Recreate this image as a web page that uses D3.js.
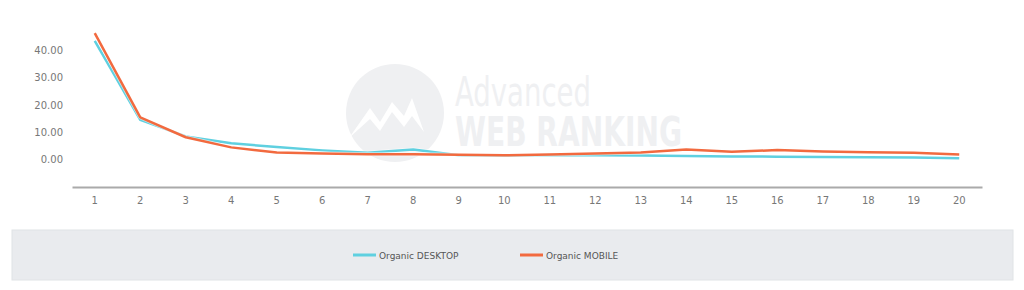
<!DOCTYPE html>
<html>
<head>
<meta charset="utf-8">
<script src="https://d3js.org/d3.v7.min.js"></script>
<style>
  body { margin: 0; background: #fff; }
  text { font-family: "DejaVu Sans", Verdana, sans-serif; }
</style>
</head>
<body>
<div id="chart-area"></div>
<script>
  // positions 1..20
  var positions = d3.range(1, 21).map(String);
  var desktopValues = [43.5, 14.6, 8.5, 6.0, 4.6, 3.4, 2.5, 3.7, 1.6, 1.4,
                       1.7, 1.6, 1.5, 1.3, 1.2, 1.1, 1.0, 0.9, 0.8, 0.5];
  var mobileValues = [46.3, 15.5, 8.2, 4.5, 2.6, 2.3, 2.0, 2.0, 1.8, 1.6,
                      1.9, 2.3, 2.6, 3.7, 2.9, 3.5, 3.0, 2.7, 2.5, 1.9];
  var yTicks = [0, 10, 20, 30, 40];
  var seriesNames = ['Organic DESKTOP', 'Organic MOBILE'];
  var seriesColors = ['#5fd0e0', '#f26a3f'];

  var svg = d3.select('#chart-area').append('svg')
      .attr('width', 1024)
      .attr('height', 290);

  var margin = {left: 72, right: 42, top: 23, bottom: 103};
  var width = 1024 - margin.left - margin.right,
      height = 290 - margin.top - margin.bottom;

  // watermark (one text, two lines)
  var wm = svg.append('g').attr('fill', '#eff0f2');
  wm.append('circle').attr('cx', 395).attr('cy', 113).attr('r', 49);
  wm.append('path')
    .attr('fill', '#fff')
    .attr('d', 'M349,138 L370,108 L380,122 L392,102 L404,116 L412,98 L424,132 L412,116 L404,127 L392,112 L380,131 L370,119 Z');
  var wmText = wm.append('text')
    .attr('font-family', '"Open Sans", sans-serif')
    .attr('font-size', '40px');
  wmText.append('tspan')
    .attr('x', 455).attr('y', 106)
    .attr('textLength', 136)
    .attr('lengthAdjust', 'spacingAndGlyphs')
    .text('Advanced');
  wmText.append('tspan')
    .attr('x', 455).attr('y', 146)
    .attr('font-weight', 'bold')
    .attr('textLength', 227)
    .attr('lengthAdjust', 'spacingAndGlyphs')
    .text('WEB RANKING');

  var g = svg.append('g')
      .attr('transform', 'translate(' + margin.left + ',' + margin.top + ')');

  var x = d3.scaleBand().domain(positions).range([0, width]);
  var y = d3.scaleLinear().domain([-10, 50]).range([height, 0]);

  // y axis labels, no line
  var yAxis = g.append('g')
      .call(d3.axisLeft(y).tickValues(yTicks).tickSize(0).tickPadding(9).tickFormat(d3.format('.2f')));
  yAxis.select('.domain').remove();
  yAxis.selectAll('text').attr('fill', '#777').attr('font-size', '10px');

  // x axis
  var xAxis = g.append('g')
      .attr('transform', 'translate(0,' + height + ')')
      .call(d3.axisBottom(x).tickSize(0).tickPadding(10));
  xAxis.select('.domain').attr('stroke', '#aaa').attr('stroke-width', 2);
  xAxis.selectAll('text').attr('fill', '#777').attr('font-size', '10px');

  var line = d3.line()
      .x(function(d, i) { return x(positions[i]) + x.bandwidth() / 2; })
      .y(function(d) { return y(d); });

  [desktopValues, mobileValues].forEach(function(vals, i) {
    g.append('path')
      .attr('fill', 'none')
      .attr('stroke', '#fff')
      .attr('stroke-width', 4)
      .attr('opacity', 0.6)
      .attr('d', line(vals));
    g.append('path')
      .attr('fill', 'none')
      .attr('stroke', seriesColors[i])
      .attr('stroke-width', 2.5)
      .attr('stroke-linejoin', 'round')
      .attr('d', line(vals));
  });

  // legend box
  svg.append('rect')
    .attr('x', 12).attr('y', 230)
    .attr('width', 1001).attr('height', 50)
    .attr('fill', '#e9ebee')
    .attr('stroke', '#e0e3e6');

  var legendX = [353, 520];
  seriesNames.forEach(function(name, i) {
    var row = svg.append('g').attr('transform', 'translate(' + legendX[i] + ',255)');
    row.append('line')
      .attr('x1', 0).attr('x2', 23)
      .attr('stroke', seriesColors[i])
      .attr('stroke-width', 3);
    row.append('text')
      .attr('x', 26).attr('y', 3.5)
      .attr('font-size', '9px')
      .attr('fill', '#555')
      .text(name);
  });
</script>
</body>
</html>
